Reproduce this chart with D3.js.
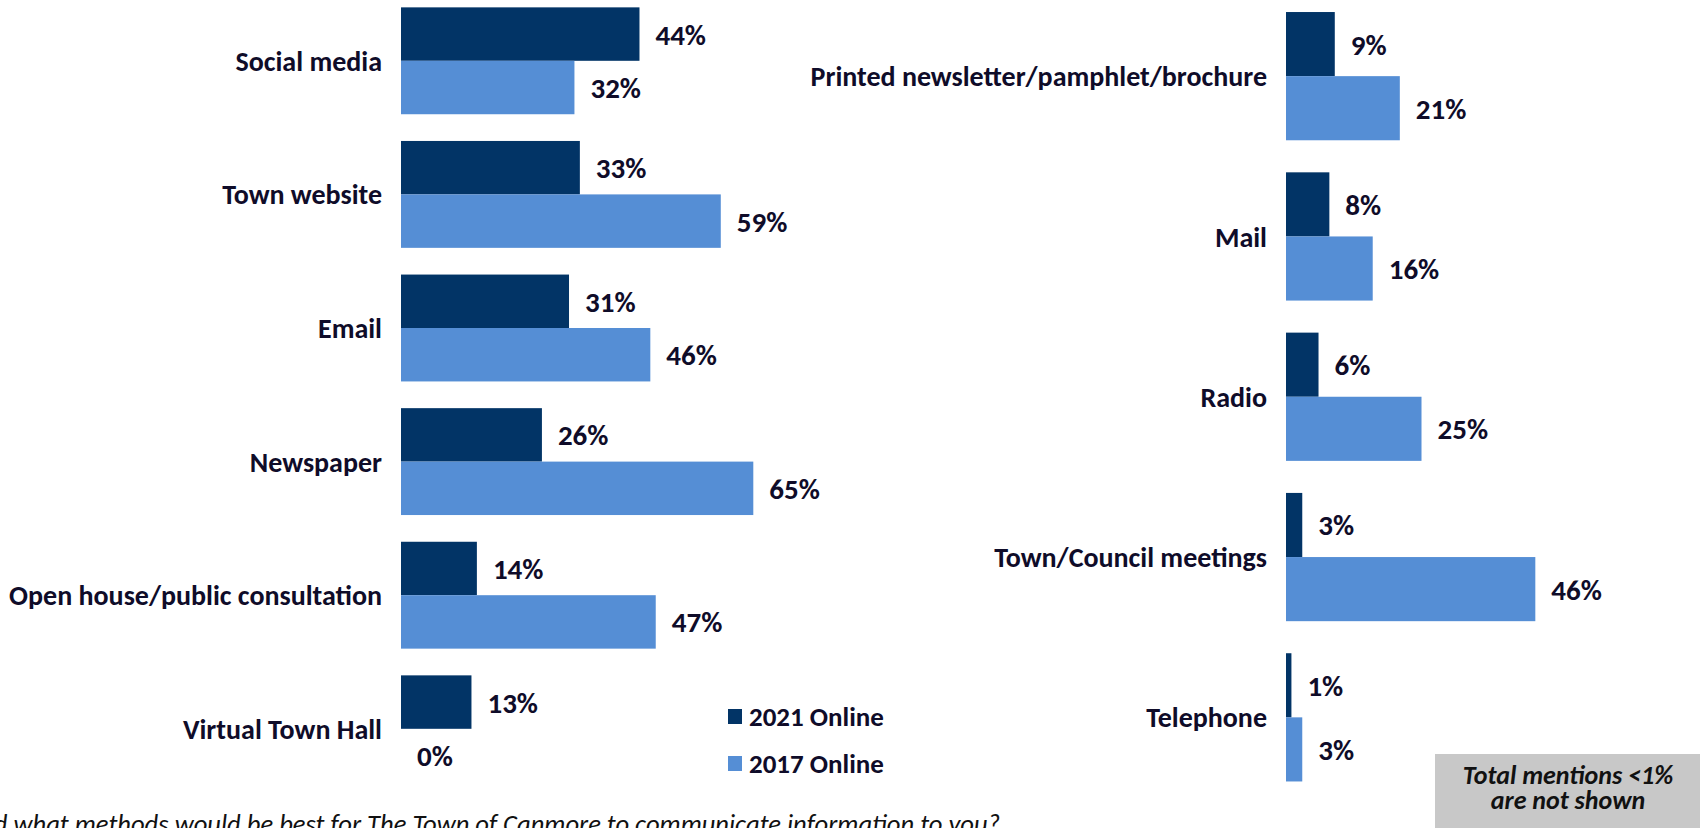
<!DOCTYPE html>
<html>
<head>
<meta charset="utf-8">
<script src="https://cdn.jsdelivr.net/npm/d3@7"></script>
<style>
  html, body { margin: 0; padding: 0; background: #ffffff; overflow: hidden; }
  svg { display: block; }
  text { font-family: Carlito, Lato, "Open Sans", sans-serif; }
</style>
</head>
<body>
<svg id="chart" width="1700" height="828"></svg>
<script>
// ---- Data ----
const leftCategories = ["Social media", "Town website", "Email", "Newspaper", "Open house/public consultation", "Virtual Town Hall"];
const left2021 = [44, 33, 31, 26, 14, 13];
const left2017 = [32, 59, 46, 65, 47, 0];

const rightCategories = ["Printed newsletter/pamphlet/brochure", "Mail", "Radio", "Town/Council meetings", "Telephone"];
const right2021 = [9, 8, 6, 3, 1];
const right2017 = [21, 16, 25, 46, 3];

const seriesNames = ["2021 Online", "2017 Online"];
const seriesColors = ["#023466", "#558ED5"];
const noteLines = ["Total mentions <1%", "are not shown"];
const footnote = "And what methods would be best for The Town of Canmore to communicate information to you?";

// ---- Layout ----
const svg = d3.select("#chart");
const textColor = "#0F0C29";
const catFont = 28;
const valFont = 29;
const legendFont = 27;

const x = d3.scaleLinear().domain([0, 100]).range([0, 542]);

function drawPanel(originX, categories, v2021, v2017, yRange) {
  const g = svg.append("g").attr("transform", `translate(${originX},0)`);
  const y = d3.scaleBand().domain(categories).range(yRange).paddingInner(0.2).paddingOuter(0.1);
  const ys = d3.scaleBand().domain(seriesNames).range([0, y.bandwidth()]).padding(0);
  const rows = categories.map((c, i) => ({ cat: c, vals: [v2021[i], v2017[i]] }));

  const grp = g.selectAll("g.row").data(rows).join("g")
    .attr("class", "row")
    .attr("transform", d => `translate(0,${y(d.cat)})`);

  grp.selectAll("rect").data(d => d.vals.map((v, k) => ({ v, k }))).join("rect")
    .attr("x", 0)
    .attr("y", d => ys(seriesNames[d.k]))
    .attr("width", d => x(d.v))
    .attr("height", ys.bandwidth())
    .attr("fill", d => seriesColors[d.k]);

  grp.selectAll("text.val").data(d => d.vals.map((v, k) => ({ v, k }))).join("text")
    .attr("class", "val")
    .attr("x", d => x(d.v) + 16)
    .attr("y", d => ys(seriesNames[d.k]) + ys.bandwidth() / 2)
    .attr("dy", "0.36em")
    .attr("font-size", valFont)
    .attr("font-weight", "bold")
    .attr("fill", textColor)
    .text(d => d.v + "%");

  grp.append("text")
    .attr("class", "cat")
    .attr("x", -19)
    .attr("y", y.bandwidth() / 2)
    .attr("dy", "0.36em")
    .attr("text-anchor", "end")
    .attr("font-size", catFont)
    .attr("font-weight", "bold")
    .attr("fill", textColor)
    .text(d => d.cat);
}

drawPanel(401, leftCategories, left2021, left2017, [-6, 795.6]);
drawPanel(1286, rightCategories, right2021, right2017, [-4, 797.5]);

// ---- Legend ----
const legend = svg.append("g").attr("transform", "translate(728,709)");
const li = legend.selectAll("g").data(seriesNames).join("g")
  .attr("transform", (d, i) => `translate(0,${i * 47})`);
li.append("rect").attr("width", 14).attr("height", 15).attr("fill", (d, i) => seriesColors[i]);
li.append("text")
  .attr("x", 21).attr("y", 7.5).attr("dy", "0.36em")
  .attr("font-size", legendFont).attr("font-weight", "bold").attr("fill", textColor)
  .text(d => d);

// ---- Note box ----
svg.append("rect").attr("x", 1435).attr("y", 754).attr("width", 265).attr("height", 74).attr("fill", "#C8C8C8");
svg.append("g").selectAll("text").data(noteLines).join("text")
  .attr("x", 1568).attr("y", (d, i) => 784 + i * 25)
  .attr("text-anchor", "middle")
  .attr("font-size", 26).attr("font-weight", "bold").attr("font-style", "italic")
  .attr("fill", "#111111")
  .text(d => d);

// ---- Footnote ----
svg.append("text")
  .attr("x", 1000).attr("y", 833)
  .attr("text-anchor", "end")
  .attr("font-size", 26.6).attr("font-style", "italic")
  .attr("fill", "#111111")
  .text(footnote);
</script>
</body>
</html>
